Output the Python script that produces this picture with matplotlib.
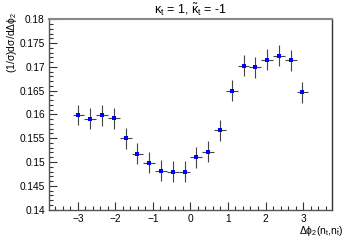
import numpy as np
import matplotlib
matplotlib.use("Agg")
import matplotlib.pyplot as plt
from matplotlib.ticker import MultipleLocator

plt.rcParams['font.family'] = ['Liberation Sans', 'DejaVu Sans']
plt.rcParams['mathtext.fontset'] = 'custom'
plt.rcParams['mathtext.rm'] = 'Liberation Sans'
plt.rcParams['mathtext.it'] = 'Liberation Sans'
plt.rcParams['mathtext.bf'] = 'Liberation Sans'

nbins = 20
edges = np.linspace(-np.pi, np.pi, nbins + 1)
centers = 0.5 * (edges[:-1] + edges[1:])
xerr = 0.5 * (edges[1:] - edges[:-1])

values = [0.1599, 0.1591, 0.1598, 0.1592, 0.1550, 0.1517, 0.1498, 0.1482, 0.1480, 0.1480,
          0.1510, 0.1522, 0.1567, 0.1650, 0.1703, 0.1699, 0.1715, 0.1724, 0.1714, 0.1647]
errors = [0.0022] * nbins
ytick_labels = ['0.14', '0.145', '0.15', '0.155', '0.16', '0.165', '0.17', '0.175', '0.18']

fig = plt.figure(figsize=(3.55, 2.40), dpi=100)
ax = fig.add_axes([0.138, 0.127, 0.797, 0.792])

ax.errorbar(centers, values, xerr=xerr, yerr=errors, fmt='s', color='#0000ff',
            markersize=3.4, ecolor='#444444', elinewidth=0.8, capsize=0.8, capthick=0.6,
            markeredgewidth=0)

ax.set_xlim(-1.2 * np.pi, 1.2 * np.pi)
ax.set_ylim(0.14, 0.18)
ax.xaxis.set_major_locator(MultipleLocator(1))
ax.xaxis.set_minor_locator(MultipleLocator(0.2))
ax.yaxis.set_minor_locator(MultipleLocator(0.001))
ax.set_yticks(np.linspace(0.14, 0.18, 9))
ax.set_yticklabels(ytick_labels)

ax.tick_params(which='both', direction='in', top=False, right=False, labelsize=7.3, pad=3,
               color='#333333')
ax.tick_params(which='major', length=6, width=0.8)
ax.tick_params(which='minor', length=3, width=0.8)

for s in ['left', 'bottom']:
    ax.spines[s].set_color('#555555')
    ax.spines[s].set_linewidth(1.0)
ax.spines['top'].set_color('#888888')
ax.spines['top'].set_linewidth(1.5)
ax.spines['right'].set_color('#333333')
ax.spines['right'].set_linewidth(1.0)

ax.set_title(r'$\kappa_t$ = 1, $\tilde{\kappa}_t$ = -1', fontsize=9, pad=4)
fig.text(12 / 355, 1 - 12 / 240, r'(1/$\sigma$)d$\sigma$/d$\Delta\phi_2$', fontsize=7.5,
         rotation=90, rotation_mode='default', ha='center', va='top')
fig.text(344 / 355, 1 - 224 / 240, r'$\Delta\phi_2$(n$_t$,n$_{\bar{t}}$)', fontsize=7.5,
         ha='right', va='top')

fig.savefig('out.png', dpi=100)
